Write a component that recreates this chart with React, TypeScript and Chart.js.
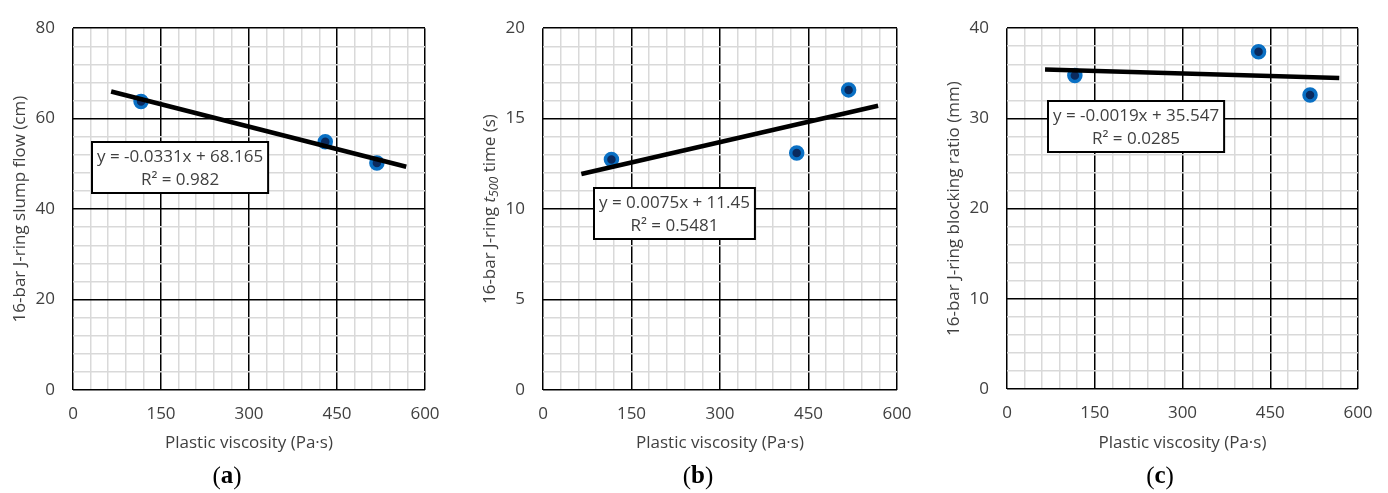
import React, { useEffect, useRef } from "react";
import { Chart, registerables } from "chart.js";

Chart.register(...registerables);

// Measured mixes: plastic viscosity (Pa·s) and J-ring results
const viscosity = [116, 430, 518];
const slumpFlow = [63.8, 54.9, 50.2];
const t500Time = [12.74, 13.1, 16.59];
const blockingRatio = [34.75, 37.4, 32.6];

// Linear trendlines (slope, intercept, R²) fitted on each property
const slumpFit = [-0.0331, 68.165, "0.982"] as const;
const t500Fit = [0.0075, 11.45, "0.5481"] as const;
const blockingFit = [-0.0019, 35.547, "0.0285"] as const;

// Trendline drawn across this viscosity span
const trendSpan = [65, 568];

// Axis ranges: [max, major step, minor step]
const xAxis = [600, 150, 30];
const slumpAxis = [80, 20, 4];
const t500Axis = [20, 5, 1];
const blockingAxis = [40, 10, 2];

const FONT = "'Open Sans', sans-serif";
const TEXT = "#404040";
const FS = 17;

type Part = { t: string; italic?: boolean; sub?: boolean };

type Panel = {
  left: number;
  area: { left: number; right: number; top: number; bottom: number };
  xs: number[];
  ys: number[];
  fit: readonly [number, number, string];
  yAxis: number[];
  yTitle: Part[];
  box: { x: number; y: number };
  tag: string;
  tagX: number;
};

const W = 463;
const H = 493;

const fmtEq = (m: number, b: number) =>
  `y = ${m < 0 ? "-" : ""}${Math.abs(m)}x + ${b}`;

const panels: Panel[] = [
  {
    left: 0,
    area: { left: 73, right: 425, top: 22, bottom: 390 },
    xs: viscosity,
    ys: slumpFlow,
    fit: slumpFit,
    yAxis: slumpAxis,
    yTitle: [{ t: "16-bar J-ring slump flow (cm)" }],
    box: { x: 183, y: 49.2 },
    tag: "a",
    tagX: 227,
  },
  {
    left: 463,
    area: { left: 80, right: 434, top: 21, bottom: 390 },
    xs: viscosity,
    ys: t500Time,
    fit: t500Fit,
    yAxis: t500Axis,
    yTitle: [
      { t: "16-bar J-ring " },
      { t: "t", italic: true },
      { t: "500", italic: true, sub: true },
      { t: " time (s)" },
    ],
    box: { x: 223, y: 9.73 },
    tag: "b",
    tagX: 235,
  },
  {
    left: 925,
    area: { left: 82, right: 433, top: 21, bottom: 389 },
    xs: viscosity,
    ys: blockingRatio,
    fit: blockingFit,
    yAxis: blockingAxis,
    yTitle: [{ t: "16-bar J-ring blocking ratio (mm)" }],
    box: { x: 220.5, y: 29.1 },
    tag: "c",
    tagX: 235,
  },
];

const isMajor = (v: number, step: number) =>
  Math.abs(v / step - Math.round(v / step)) < 1e-6;

function PanelChart({ p }: { p: Panel }) {
  const ref = useRef<HTMLCanvasElement>(null);

  useEffect(() => {
    if (!ref.current) return;
    const [yMax, yMajor, yMinor] = p.yAxis;
    const [xMax, xMajor, xMinor] = xAxis;
    const [m, b, r2] = p.fit;
    const trend = trendSpan.map((x) => ({ x, y: m * x + b }));

    const decorations = {
      id: "decorations",
      afterDatasetsDraw(chart: any) {
        const ctx = chart.ctx as CanvasRenderingContext2D;
        const ca = chart.chartArea;
        const xs = chart.scales.x;
        const ys = chart.scales.y;
        ctx.save();

        // equation box
        const l1 = fmtEq(m, b);
        const l2 = `R² = ${r2}`;
        ctx.font = `${FS}px ${FONT}`;
        const tw = Math.max(ctx.measureText(l1).width, ctx.measureText(l2).width);
        const bw = tw + 10;
        const bh = 51;
        const cx = xs.getPixelForValue(p.box.x);
        const cy = ys.getPixelForValue(p.box.y);
        const bx = Math.round(cx - bw / 2);
        const by = Math.round(cy - bh / 2);
        ctx.fillStyle = "#ffffff";
        ctx.fillRect(bx, by, bw, bh);
        ctx.strokeStyle = "#000000";
        ctx.lineWidth = 2;
        ctx.strokeRect(bx, by, bw, bh);
        ctx.fillStyle = TEXT;
        ctx.textAlign = "center";
        ctx.textBaseline = "middle";
        ctx.fillText(l1, bx + bw / 2, by + 15);
        ctx.fillText(l2, bx + bw / 2, by + 38);

        // x axis title
        ctx.fillText("Plastic viscosity (Pa·s)", (ca.left + ca.right) / 2, 443);

        // y axis title (rotated, with optional italic subscript)
        const pieces = p.yTitle.map((part) => {
          const size = part.sub ? FS * 0.72 : FS;
          const font = `${part.italic ? "italic " : ""}${size}px ${FONT}`;
          ctx.font = font;
          return { ...part, font, w: ctx.measureText(part.t).width };
        });
        const total = pieces.reduce((s, q) => s + q.w, 0);
        ctx.translate(ca.left - 53, (ca.top + ca.bottom) / 2);
        ctx.rotate(-Math.PI / 2);
        ctx.textAlign = "left";
        let px = -total / 2;
        for (const q of pieces) {
          ctx.font = q.font;
          ctx.fillText(q.t, px, q.sub ? 5 : 0);
          px += q.w;
        }
        ctx.restore();

        // panel tag "(a)"
        ctx.save();
        ctx.fillStyle = "#000000";
        ctx.textBaseline = "middle";
        const serif = "'Liberation Serif', 'DejaVu Serif', serif";
        const segs = [
          { t: "(", f: `25px ${serif}` },
          { t: p.tag, f: `bold 25px ${serif}` },
          { t: ")", f: `25px ${serif}` },
        ];
        const widths = segs.map((s) => {
          ctx.font = s.f;
          return ctx.measureText(s.t).width;
        });
        let tx = p.tagX - widths.reduce((a, c) => a + c, 0) / 2;
        segs.forEach((s, i) => {
          ctx.font = s.f;
          ctx.fillText(s.t, tx, 477);
          tx += widths[i];
        });
        ctx.restore();
      },
    };

    const chart = new Chart(ref.current, {
      type: "scatter",
      data: {
        datasets: [
          {
            type: "line",
            data: trend,
            borderColor: "#000000",
            borderWidth: 4.5,
            pointRadius: 0,
            order: 0,
          } as any,
          {
            data: p.xs.map((x, i) => ({ x, y: p.ys[i] })),
            backgroundColor: "#0a2a5e",
            borderColor: "#0a70c4",
            borderWidth: 3.5,
            pointRadius: 6,
            order: 1,
          },
        ],
      },
      options: {
        responsive: false,
        animation: false,
        events: [],
        layout: {
          padding: {
            left: 0,
            top: p.area.top,
            right: W - p.area.right,
            bottom: 0,
          },
        },
        plugins: { legend: { display: false }, tooltip: { enabled: false } },
        scales: {
          x: {
            type: "linear",
            min: 0,
            max: xMax,
            afterFit: (s: any) => {
              s.height = H - p.area.bottom;
            },
            ticks: {
              stepSize: xMinor,
              autoSkip: false,
              maxRotation: 0,
              padding: 14,
              color: TEXT,
              font: { family: FONT, size: FS },
              callback: (v: any) => (isMajor(Number(v), xMajor) ? String(v) : ""),
            },
            grid: {
              drawTicks: false,
              color: (c: any) => (isMajor(c.tick.value, xMajor) ? "#000000" : "#d9d9d9"),
              lineWidth: 1.5,
            },
            border: { display: false },
          },
          y: {
            type: "linear",
            min: 0,
            max: yMax,
            afterFit: (s: any) => {
              s.width = p.area.left;
            },
            ticks: {
              stepSize: yMinor,
              autoSkip: false,
              padding: 18,
              color: TEXT,
              font: { family: FONT, size: FS },
              callback: (v: any) => (isMajor(Number(v), yMajor) ? String(v) : ""),
            },
            grid: {
              drawTicks: false,
              color: (c: any) => (isMajor(c.tick.value, yMajor) ? "#000000" : "#d9d9d9"),
              lineWidth: 1.5,
            },
            border: { display: false },
          },
        },
      },
      plugins: [decorations],
    });
    return () => chart.destroy();
  }, [p]);

  return (
    <div style={{ position: "absolute", left: p.left, top: 0, width: W, height: H }}>
      <canvas ref={ref} width={W} height={H} />
    </div>
  );
}

export default function App() {
  return (
    <div
      style={{
        position: "absolute",
        left: 0,
        top: 0,
        width: 1388,
        height: 493,
        background: "#ffffff",
        overflow: "hidden",
      }}
    >
      {panels.map((p) => (
        <PanelChart key={p.tag} p={p} />
      ))}
    </div>
  );
}
